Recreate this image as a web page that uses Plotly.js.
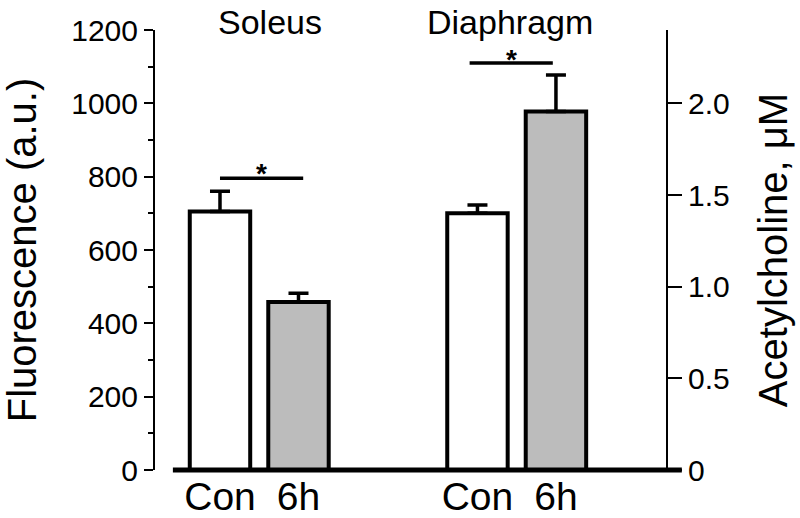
<!DOCTYPE html>
<html>
<head>
<meta charset="utf-8">
<script src="https://cdn.plot.ly/plotly-3.0.1.min.js"></script>
<style>html,body{margin:0;padding:0;background:#fff;}#chart{width:800px;height:518px;}</style>
</head>
<body>
<div id="chart"></div>
<script>
// ---- data ----
const groups = ["Soleus", "Diaphragm"];
const conditions = ["Con", "6h"];
const soleusFluorescence = [705, 458];      // a.u. (left axis)
const soleusError = [55, 24];
const diaphragmACh = [1.40, 1.955];          // µM (right axis)
const diaphragmError = [0.045, 0.20];
const leftTickVals = [0, 200, 400, 600, 800, 1000, 1200];
const rightTickVals = [0, 0.5, 1.0, 1.5, 2.0];
const rightTickText = ["0", "0.5", "1.0", "1.5", "2.0"];
const sigLevels = [796, 2.22];               // significance bar heights (left, right axis)

// ---- layout helpers (positions, not data) ----
const barPos = [1, 2, 4.28, 5.28];
const FONT = "Liberation Sans, Arial, Helvetica, sans-serif";
const barColors = ["#ffffff", "#bcbcbc"];

const errStyle = (arr) => ({
  type: "data", symmetric: false, array: arr, arrayminus: arr.map(() => 0),
  color: "#000", thickness: 3.5, width: 10, visible: true
});

const traces = [
  {
    type: "bar", x: barPos.slice(0, 2), y: soleusFluorescence,
    width: 0.77, yaxis: "y",
    marker: { color: barColors, line: { color: "#000", width: 4 } },
    error_y: errStyle(soleusError), name: groups[0], hoverinfo: "y"
  },
  {
    type: "bar", x: barPos.slice(2, 4), y: diaphragmACh,
    width: 0.77, yaxis: "y2",
    marker: { color: barColors, line: { color: "#000", width: 4 } },
    error_y: errStyle(diaphragmError), name: groups[1], hoverinfo: "y"
  }
];

const sigSpans = [[barPos[0], barPos[1] + 0.06], [barPos[2] - 0.1, barPos[3] - 0.04]];
const sigRefs = ["y", "y2"];
const starShift = [5, 4];

const shapes = [
  // thick baseline
  { type: "line", xref: "paper", yref: "paper", x0: 0.035, x1: 1.031, y0: 0, y1: 0,
    line: { color: "#000", width: 5 } }
];
const annotations = [];
sigSpans.forEach((s, i) => {
  shapes.push({ type: "line", xref: "x", yref: sigRefs[i], x0: s[0], x1: s[1],
    y0: sigLevels[i], y1: sigLevels[i], line: { color: "#000", width: 3.5 } });
  annotations.push({ xref: "x", yref: sigRefs[i], x: (s[0] + s[1]) / 2, y: sigLevels[i],
    text: "<b>*</b>", showarrow: false, yanchor: "middle", yshift: starShift[i],
    font: { size: 28, family: FONT, color: "#000" } });
});
const groupShift = [11, -7];
groups.forEach((g, i) => {
  annotations.push({ xref: "x", yref: "paper", x: (barPos[2 * i] + barPos[2 * i + 1]) / 2, y: 1.067,
    xanchor: "center", yanchor: "top", xshift: groupShift[i], yshift: 0,
    text: g, showarrow: false, font: { size: 34, family: FONT, color: "#000" } });
});

const layout = {
  width: 800, height: 518,
  margin: { l: 155, r: 134, t: 30, b: 48, pad: 0 },
  paper_bgcolor: "#fff", plot_bgcolor: "#fff",
  showlegend: false, barmode: "overlay",
  font: { family: FONT, color: "#000", size: 30 },
  xaxis: {
    range: [0.172, 6.682], tickvals: barPos,
    ticktext: conditions.concat(conditions),
    ticks: "", showline: false, showgrid: false, zeroline: false,
    tickfont: { size: 39, family: FONT, color: "#000" }, fixedrange: true
  },
  yaxis: {
    range: [0, 1200], tickvals: leftTickVals, ticks: "outside", ticklen: 9, tickwidth: 2,
    tickcolor: "#000", showline: true, linewidth: 2, linecolor: "#000",
    showgrid: false, zeroline: false,
    minor: { dtick: 100, tick0: 0, ticks: "outside", ticklen: 5, tickwidth: 2, tickcolor: "#000", showgrid: false },
    tickfont: { size: 30, family: FONT, color: "#000" },
    title: { text: "Fluorescence (a.u.)", font: { size: 40, family: FONT, color: "#000" }, standoff: 32 }
  },
  yaxis2: {
    overlaying: "y", side: "right", range: [0, 2.4],
    tickvals: rightTickVals, ticktext: rightTickText,
    ticks: "outside", ticklen: 14, tickwidth: 2, tickcolor: "#000",
    showline: true, linewidth: 2, linecolor: "#000",
    showgrid: false, zeroline: false,
    tickfont: { size: 30, family: FONT, color: "#000" },
    title: { text: "Acetylcholine, μM", font: { size: 40, family: FONT, color: "#000" }, standoff: 30 }
  },
  shapes: shapes,
  annotations: annotations
};

Plotly.newPlot("chart", traces, layout, { staticPlot: true, displayModeBar: false });
</script>
</body>
</html>
